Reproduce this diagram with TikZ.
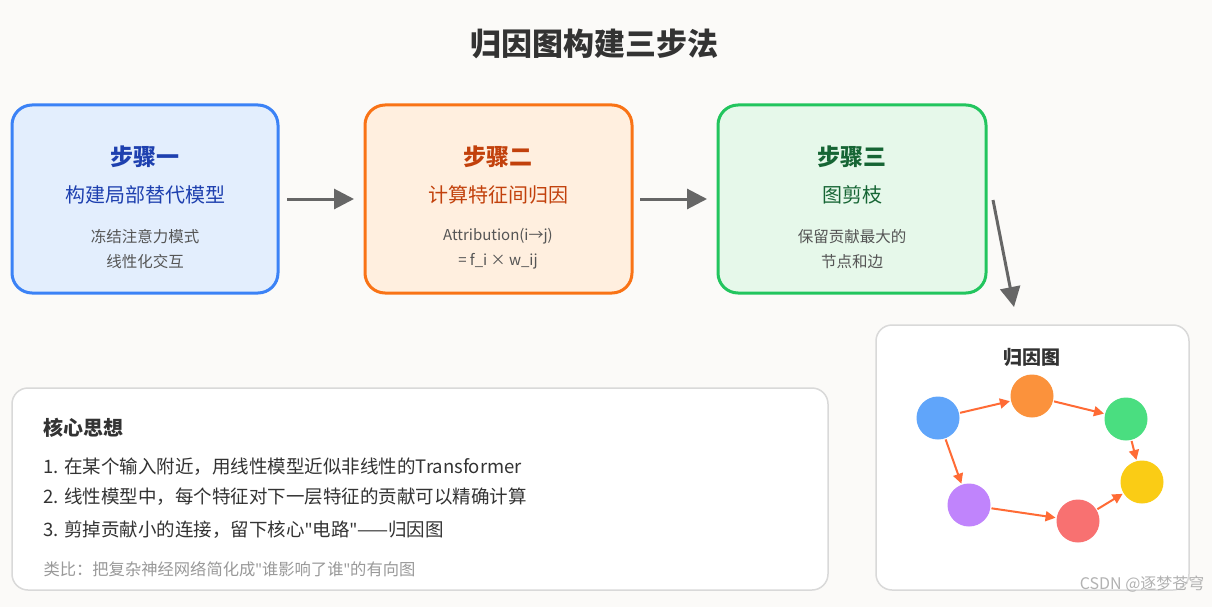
\documentclass[tikz,border=0pt]{standalone}
\usepackage{fontspec}
\setmainfont{Noto Sans CJK SC}
\newfontfamily\latinq{Noto Sans}
\newcommand{\q}{{\latinq"}}
\usetikzlibrary{arrows.meta}
\definecolor{bgc}{HTML}{FBFAF8}
\definecolor{bB}{HTML}{3B82F6}\definecolor{fB}{HTML}{E3EEFD}
\definecolor{bO}{HTML}{F97316}\definecolor{fO}{HTML}{FFEFDF}
\definecolor{bG}{HTML}{22C55E}\definecolor{fG}{HTML}{E6F8EA}
\definecolor{tB}{HTML}{1E40AF}\definecolor{tO}{HTML}{C2410C}\definecolor{tG}{HTML}{166534}
\definecolor{txt}{HTML}{333333}\definecolor{sub}{HTML}{555555}
\definecolor{edge}{HTML}{FF6B35}
\definecolor{cBl}{HTML}{60A5FA}\definecolor{cOr}{HTML}{FB923C}\definecolor{cGr}{HTML}{4ADE80}
\definecolor{cYe}{HTML}{FACC15}\definecolor{cRe}{HTML}{F87171}\definecolor{cPu}{HTML}{C084FC}
\begin{document}
\begin{tikzpicture}[x=1pt,y=-1pt,
 stepbox/.style={rounded corners=20pt,line width=3pt},
 bigarrow/.style={draw=black!60,line width=3pt,-{Triangle[length=20pt,width=20pt]}},
 gnode/.style={circle,minimum size=43pt,inner sep=0pt},
 gedge/.style={draw=edge,line width=2pt,-{Triangle[length=10pt,width=10pt]},shorten >=1pt,shorten <=1pt},
 panel/.style={draw=black!15,fill=white,rounded corners=16pt,line width=1.5pt}]
\fill[bgc] (0,0) rectangle (1212,607);
\node (title) at (594,44) {\fontsize{31}{34}\selectfont\bfseries\color{txt}归因图构建三步法};
% step boxes
\draw[stepbox,draw=bB,fill=fB] (12,105) rectangle (278,293);
\draw[stepbox,draw=bO,fill=fO] (365,105) rectangle (632,293);
\draw[stepbox,draw=bG,fill=fG] (718,105) rectangle (986,293);
\node (b1) at (145,157) {\fontsize{23}{26}\selectfont\bfseries\color{tB}步骤一};
\node (b1s) at (145,195) {\fontsize{20}{24}\selectfont\color{tB}构建局部替代模型};
\node[align=center,font=\fontsize{15.5}{25}\selectfont,text=sub] (b1d) at (145,249) {冻结注意力模式\\线性化交互};
\node (b2) at (498,157) {\fontsize{23}{26}\selectfont\bfseries\color{tO}步骤二};
\node (b2s) at (498,195) {\fontsize{20}{24}\selectfont\color{tO}计算特征间归因};
\node[align=center,font=\fontsize{15}{25}\selectfont,text=sub] (b2d) at (498,249) {Attribution(i→j)\\= f\_i × w\_ij};
\node (b3) at (852,157) {\fontsize{23}{26}\selectfont\bfseries\color{tG}步骤三};
\node (b3s) at (852,195) {\fontsize{20}{24}\selectfont\color{tG}图剪枝};
\node[align=center,font=\fontsize{15.5}{25}\selectfont,text=sub] (b3d) at (852,249) {保留贡献最大的\\节点和边};
\coordinate (a1s) at (287,199);\coordinate (a1e) at (354,199);
\coordinate (a2s) at (640,199);\coordinate (a2e) at (707,199);
\coordinate (a3s) at (993,200);\coordinate (a3e) at (1014,307);
\draw[bigarrow] (a1s) -- (a1e);
\draw[bigarrow] (a2s) -- (a2e);
\draw[bigarrow] (a3s) -- (a3e);
% graph panel
\draw[panel] (876,325) rectangle (1189,590);
\node (gt) at (1032,357) {\fontsize{19}{22}\selectfont\bfseries\color{txt}归因图};
\node[gnode,fill=cBl] (n1) at (938,418) {};
\node[gnode,fill=cOr] (n2) at (1032,396) {};
\node[gnode,fill=cGr] (n3) at (1126,419) {};
\node[gnode,fill=cYe] (n4) at (1142,482) {};
\node[gnode,fill=cRe] (n5) at (1078,521) {};
\node[gnode,fill=cPu] (n6) at (969,505) {};
\draw[gedge] (n1) -- (n2);
\draw[gedge] (n2) -- (n3);
\draw[gedge] (n3) -- (n4);
\draw[gedge] (n1) -- (n6);
\draw[gedge] (n6) -- (n5);
\draw[gedge] (n5) -- (n4);
% idea panel
\draw[panel] (12,388) rectangle (828,590);
\node[anchor=west] (h) at (40,428) {\fontsize{20}{22}\selectfont\bfseries\color{txt}核心思想};
\node[anchor=west,font=\fontsize{18.5}{22}\selectfont,text=txt] (l1) at (40,467) {1. 在某个输入附近，用线性模型近似非线性的Transformer};
\node[anchor=west,font=\fontsize{18.5}{22}\selectfont,text=txt] (l2) at (40,497) {2. 线性模型中，每个特征对下一层特征的贡献可以精确计算};
\node[anchor=west,font=\fontsize{18.5}{22}\selectfont,text=txt] (l3) at (40,530) {3. 剪掉贡献小的连接，留下核心\q 电路\q——归因图};
\node[anchor=west,font=\fontsize{16.3}{20}\selectfont,text=black!40] (l4) at (40,569) {类比：把复杂神经网络简化成\q 谁影响了谁\q 的有向图};
\node[anchor=east,font=\fontsize{16}{20}\selectfont,text=black!30] (wm) at (1208,584) {CSDN @逐梦苍穹};
\end{tikzpicture}
\end{document}
